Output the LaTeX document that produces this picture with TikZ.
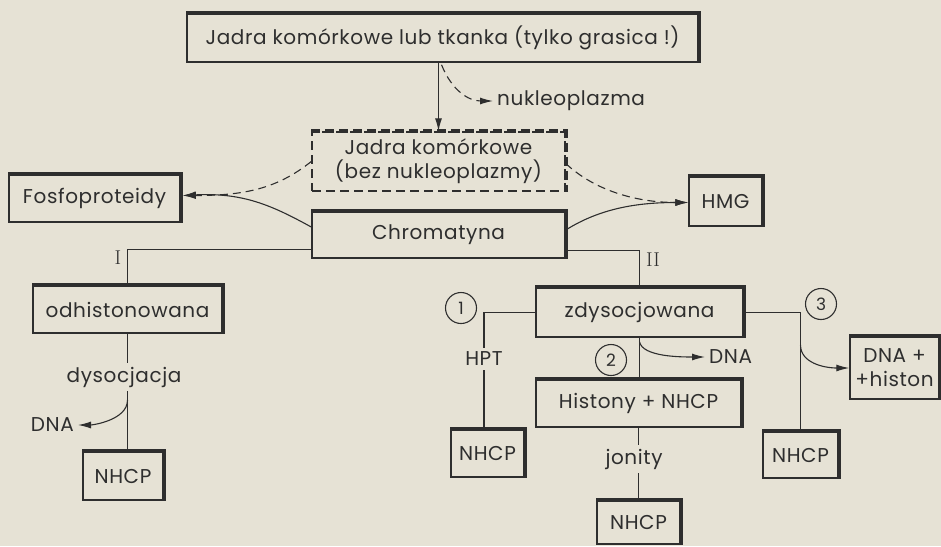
\documentclass[tikz,border=0pt]{standalone}
\usepackage{fontspec}
\newfontfamily\lett[LetterSpace=3]{Poppins}
\usetikzlibrary{arrows.meta,calc}
\definecolor{paper}{HTML}{E6E2D5}
\definecolor{ink}{HTML}{2E2E2E}
\tikzset{
  txt/.style={font=\lett\fontsize{20}{24}\selectfont, text=ink},
  box/.style={txt, draw=ink, line width=1.5pt, inner sep=0pt, align=center},
  dbox/.style={box, dash pattern=on 9pt off 5pt},
  lab/.style={txt, inner sep=4pt},
  roman/.style={font=\rmfamily\fontsize{20}{22}\selectfont, text=ink, inner sep=1pt},
  circ/.style={circle, draw=ink, line width=1.1pt, minimum size=31pt, inner sep=0pt,
               font=\lett\fontsize{17}{18}\selectfont, text=ink},
  conn/.style={draw=ink, line width=1.1pt},
  dconn/.style={conn, dash pattern=on 8pt off 5pt},
  tip/.style={-{Latex[length=13pt,width=7pt]}},
  shade/.style={draw=ink, line width=3.6pt}
}
\begin{document}
\begin{tikzpicture}[x=1pt,y=-1pt]
\fill[paper] (0,0) rectangle (941,546);
\useasboundingbox (0,0) rectangle (941,546);

% boxes
\node[box, minimum width=511, minimum height=48] (top) at (442.5,38) {Jadra komórkowe lub tkanka (tylko grasica !)};
\node[dbox, minimum width=253, minimum height=59, align=center] (nucl) at (438.5,161.5) {Jadra komórkowe\\(bez nukleoplazmy)};
\node[box, minimum width=171, minimum height=47] (fosfo) at (94.5,198.5) {Fosfoproteidy};
\node[box, minimum width=253, minimum height=46] (chrom) at (438.5,235) {Chromatyna};
\node[box, minimum width=73, minimum height=49] (hmg) at (725.5,201.5) {HMG};
\node[box, minimum width=189, minimum height=47] (odh) at (127.5,309.5) {odhistonowana};
\node[box, minimum width=80, minimum height=48] (nhA) at (123,476) {NHCP};
\node[box, minimum width=207, minimum height=49] (zdys) at (639.5,312.5) {zdysocjowana};
\node[box, minimum width=73, minimum height=47] (nh1) at (487.5,453.5) {NHCP};
\node[box, minimum width=205, minimum height=47] (hist) at (638.5,403.5) {Histony + NHCP};
\node[box, minimum width=83, minimum height=43] (nh2) at (638.5,522.5) {NHCP};
\node[box, minimum width=75, minimum height=46] (nh3) at (800.5,455) {NHCP};
\node[box, minimum width=89, minimum height=62] (dnah) at (894.5,368) {DNA +\\+histon};

% heavy top and right edges
\foreach \n in {top,fosfo,chrom,hmg,odh,nhA,zdys,nh1,hist,nh2,nh3,dnah}
  \draw[shade] (\n.north west) -- (\n.north east) -- (\n.south east);
\draw[shade, dash pattern=on 9pt off 5pt] (nucl.north west) -- (nucl.north east) -- (nucl.south east);

% labels
\node[lab, anchor=west] (nuk) at (493,101) {nukleoplazma};
\node[roman] (rI) at (118,258) {I};
\node[roman] (rII) at (653,260) {II};
\node[lab] (dys) at (124,377) {dysocjacja};
\node[lab, anchor=east] (dnaL) at (78,425) {DNA};
\node[lab] (hpt) at (484,359) {HPT};
\node[lab, anchor=west] (dnaR) at (705,357) {DNA};
\node[lab] (jon) at (634,459) {jonity};
\node[circ] (c1) at (461,308) {1};
\node[circ] (c2) at (611,360) {2};
\node[circ] (c3) at (821,304) {3};

% top arrows
\draw[conn, tip] (nucl.north |- top.south) -- (nucl.north);
\coordinate (nk0) at ($(nucl.north |- top.south)+(3,2)$);
\draw[dconn, tip] (nk0) .. controls +(10,25) and +(-25,0) .. (nuk.west);

% to Fosfoproteidy and HMG
\coordinate (dL) at ($(nucl.west)+(0,0)$);
\coordinate (dR) at ($(nucl.east)+(0,2)$);
\coordinate (cL) at ($(chrom.west)+(0,-8)$);
\coordinate (cR) at ($(chrom.east)+(0,-5)$);
\draw[dconn, tip] (dL) .. controls +(-35,28) and +(60,0) .. ($(fosfo.east)+(2,-3)$);
\draw[conn, tip] (cL) .. controls +(-40,-22) and +(60,-3) .. ($(fosfo.east)+(2,-3)$);
\draw[dconn, tip] (dR) .. controls +(30,28) and +(-50,0) .. ($(hmg.west)+(0,1)$);
\draw[conn, tip] (cR) .. controls +(35,-22) and +(-50,0) .. ($(hmg.west)+(0,1)$);

% branch I
\coordinate (bI) at ($(chrom.south west)+(0,-9)$);
\draw[conn] (bI) -| (odh.north);
\draw[conn] (odh.south) -- (odh.south |- dys.north);
\draw[conn] (odh.south |- dys.south) -- (odh.south |- nhA.north);
\coordinate (dd) at (odh.south |- 0,400);
\draw[conn, tip] (dd) .. controls +(0,20) and +(15,0) .. (dnaL.east);

% branch II
\coordinate (bII) at ($(chrom.south east)+(0,-8)$);
\draw[conn] (bII) -| (zdys.north);

% zdysocjowana branches
\draw[conn] (zdys.west) -| (hpt.north);
\draw[conn] (hpt.south) -- (hpt.south |- nh1.north);
\draw[conn] (zdys.south) -- (zdys.south |- hist.north);
\coordinate (z2) at ($(zdys.south)+(0,4)$);
\draw[conn, tip] (z2) .. controls +(3,15) and +(-25,0) .. (dnaR.west);
\draw[conn] (hist.south) -- (hist.south |- jon.north);
\draw[conn] (hist.south |- jon.south) -- (nh2.north);
\draw[conn] (zdys.east) -| (nh3.north);
\coordinate (z3) at (nh3.north |- 0,345);
\draw[conn, tip] (z3) .. controls +(0,18) and +(-25,0) .. (dnah.west);
\end{tikzpicture}
\end{document}
